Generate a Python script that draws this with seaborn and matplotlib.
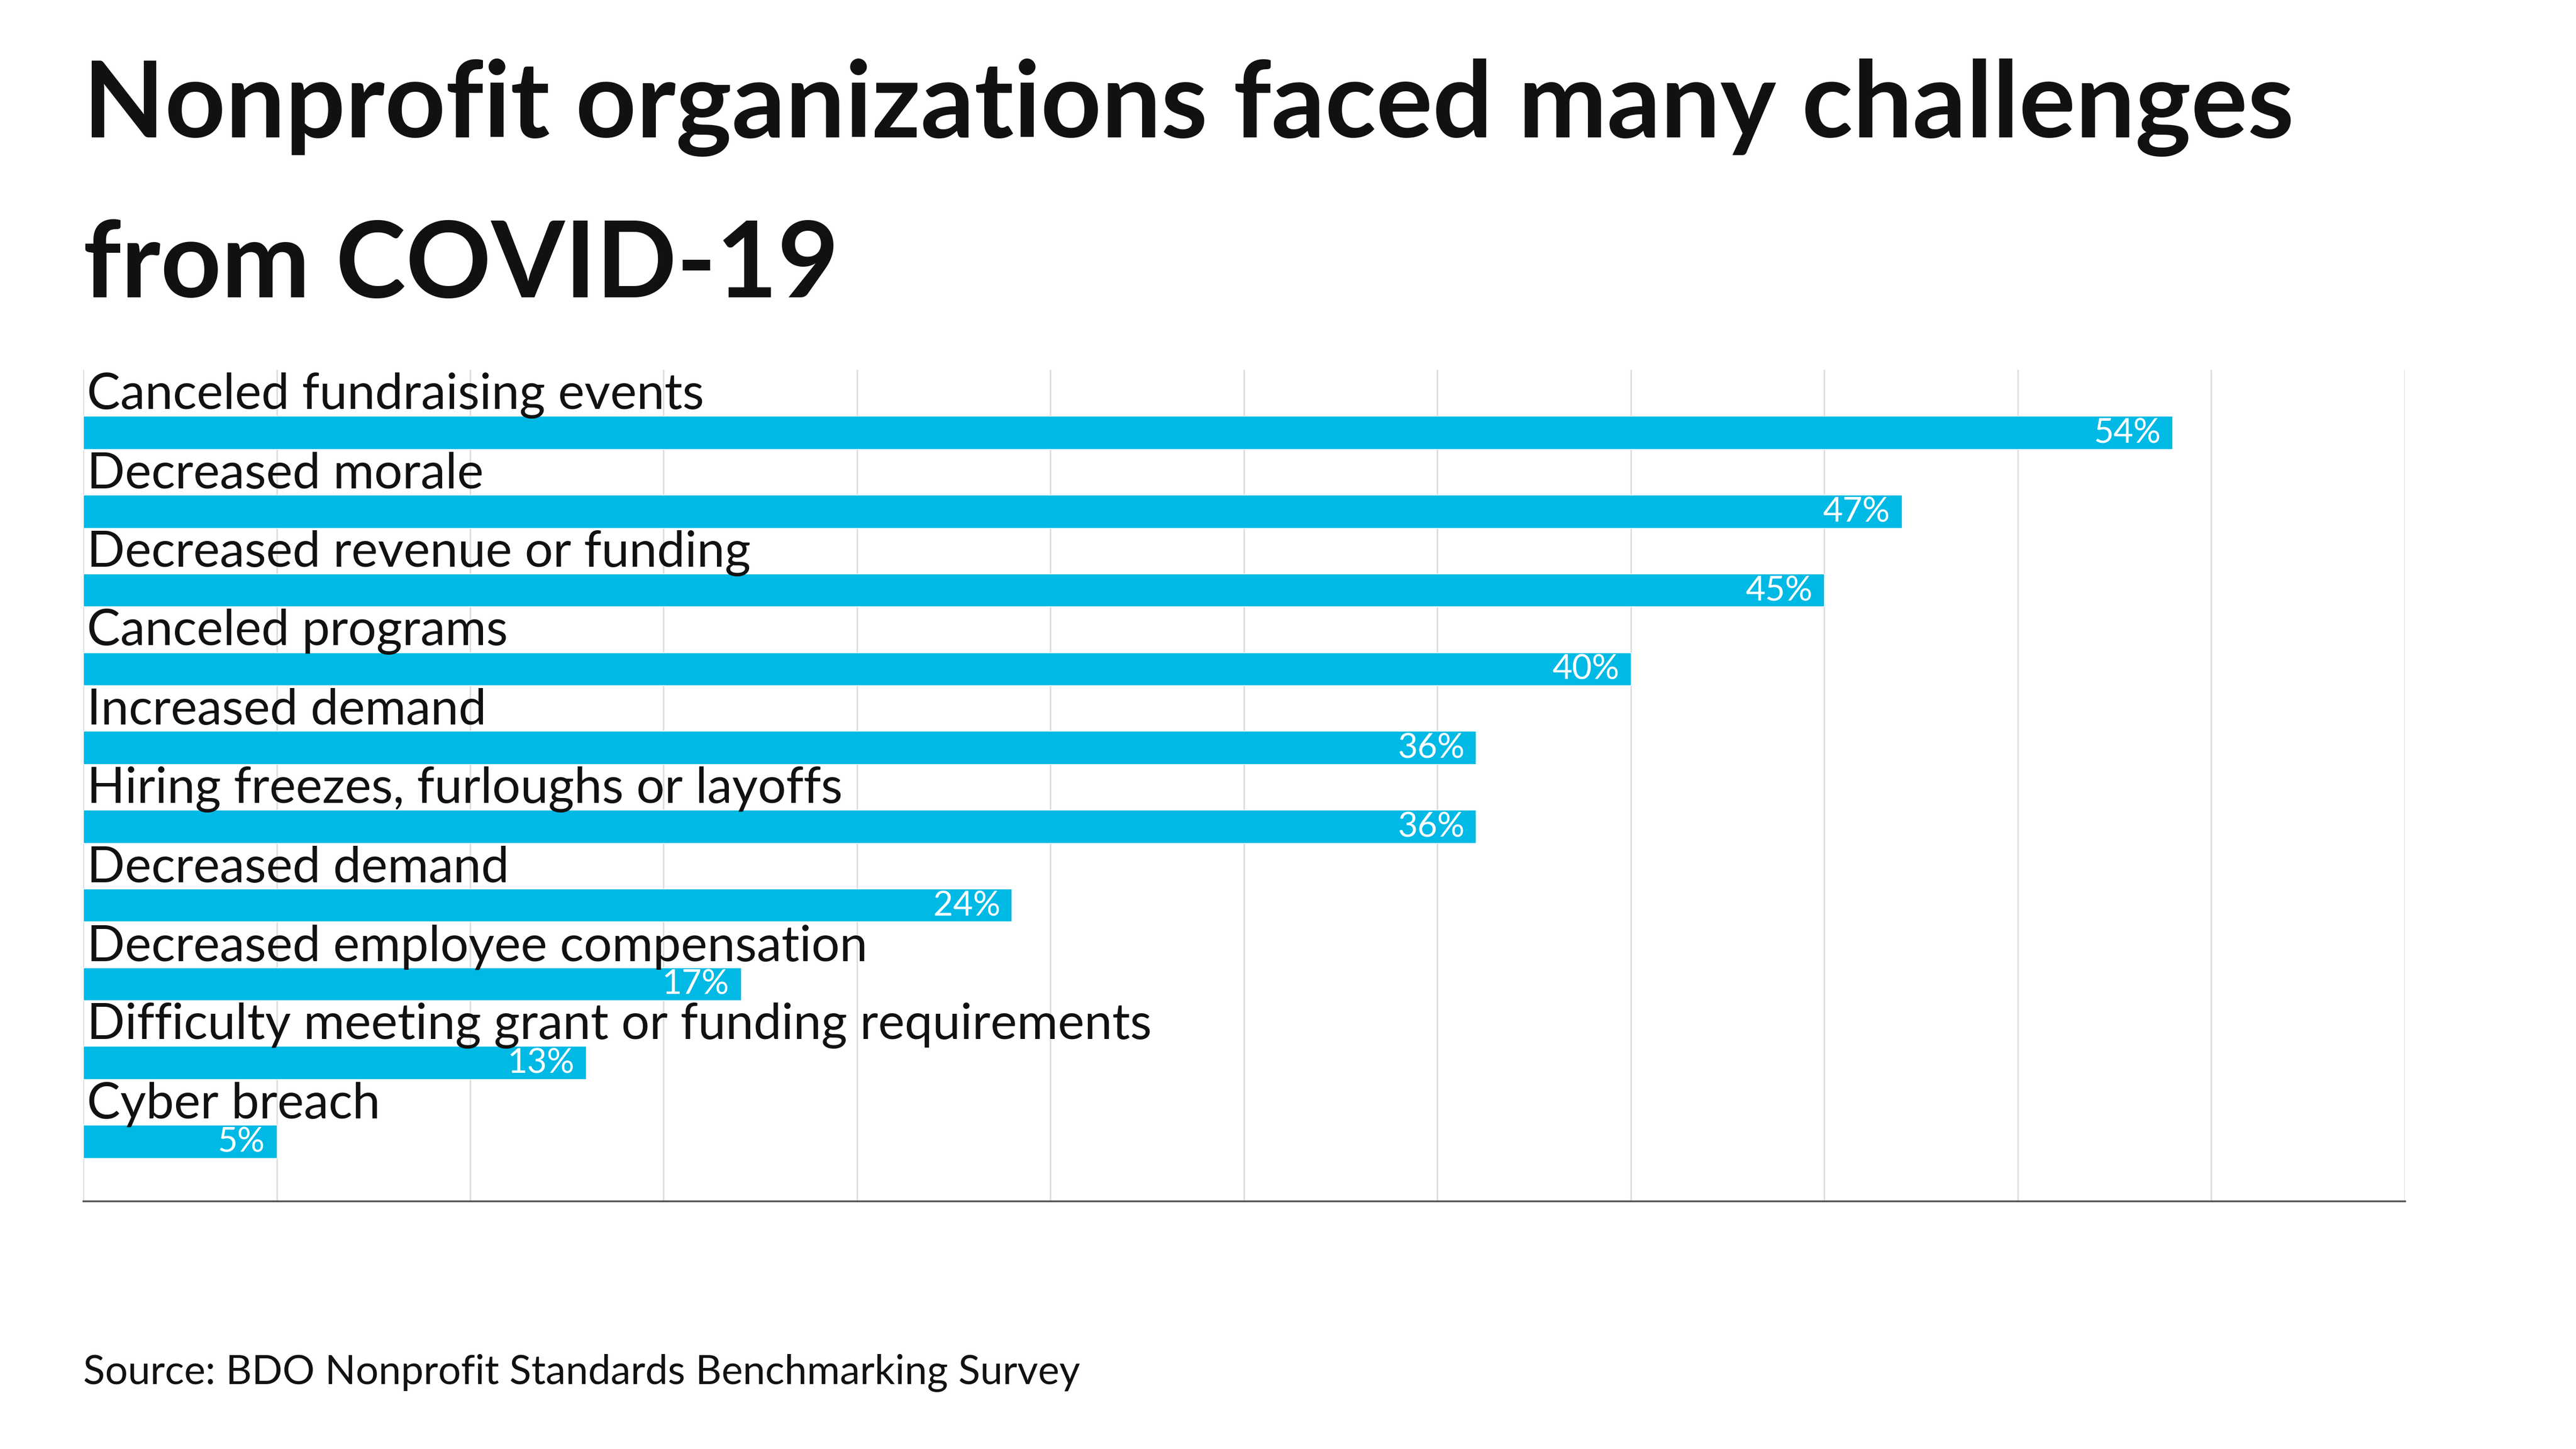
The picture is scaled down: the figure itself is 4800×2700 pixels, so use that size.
import matplotlib
matplotlib.use("Agg")
import matplotlib.pyplot as plt
import seaborn as sns
import pandas as pd

categories = ["Canceled fundraising events", "Decreased morale", "Decreased revenue or funding",
              "Canceled programs", "Increased demand", "Hiring freezes, furloughs or layoffs",
              "Decreased demand", "Decreased employee compensation",
              "Difficulty meeting grant or funding requirements", "Cyber breach"]
values = [54, 47, 45, 40, 36, 36, 24, 17, 13, 5]
value_labels = [f"{v}%" for v in values]

sns.set_theme(style="white")
plt.rcParams['font.family'] = ['Lato', 'DejaVu Sans']

df = pd.DataFrame({"cat": categories, "val": values})
fig = plt.figure(figsize=(48, 27), dpi=100)
ax = fig.add_axes([0.0323, 0.171, 0.9012, 0.574])
sns.barplot(data=df, x="val", y="cat", orient="h", color="#00B9E4", saturation=1,
            width=0.42, ax=ax, zorder=3)
ax.set_xlim(0, 60)
ax.set_ylim(9 + 36/47.4, -38/47.4)
ax.set_xticks(range(0, 61, 5))
ax.set_yticks([])
ax.set_xticklabels([])
ax.tick_params(length=0)
ax.set_xlabel(""); ax.set_ylabel("")
ax.grid(axis="x", color="#dddddd", linewidth=2, zorder=0)
for s in ["top", "right", "left"]:
    ax.spines[s].set_visible(False)
ax.spines["bottom"].set_color("#555555")
ax.spines["bottom"].set_linewidth(2.5)

for i, (c, v, l) in enumerate(zip(categories, values, value_labels)):
    ax.text(0.1, i - 0.47, c, fontsize=67, va="center", ha="left", color="#111111", zorder=4)
    ax.text(v - 0.3, i + 0.01, l, fontsize=46, va="center", ha="right", color="white", zorder=4)

fig.text(0.0323, 0.905, "Nonprofit organizations faced many challenges", fontsize=142,
         fontweight="bold", ha="left", va="baseline", color="#111111")
fig.text(0.0323, 0.795, "from COVID-19", fontsize=142, fontweight="bold",
         ha="left", va="baseline", color="#111111")
fig.text(0.0323, 0.045, "Source: BDO Nonprofit Standards Benchmarking Survey", fontsize=54,
         ha="left", va="baseline", color="#111111")

fig.savefig("out.png", dpi=100, facecolor="white")
